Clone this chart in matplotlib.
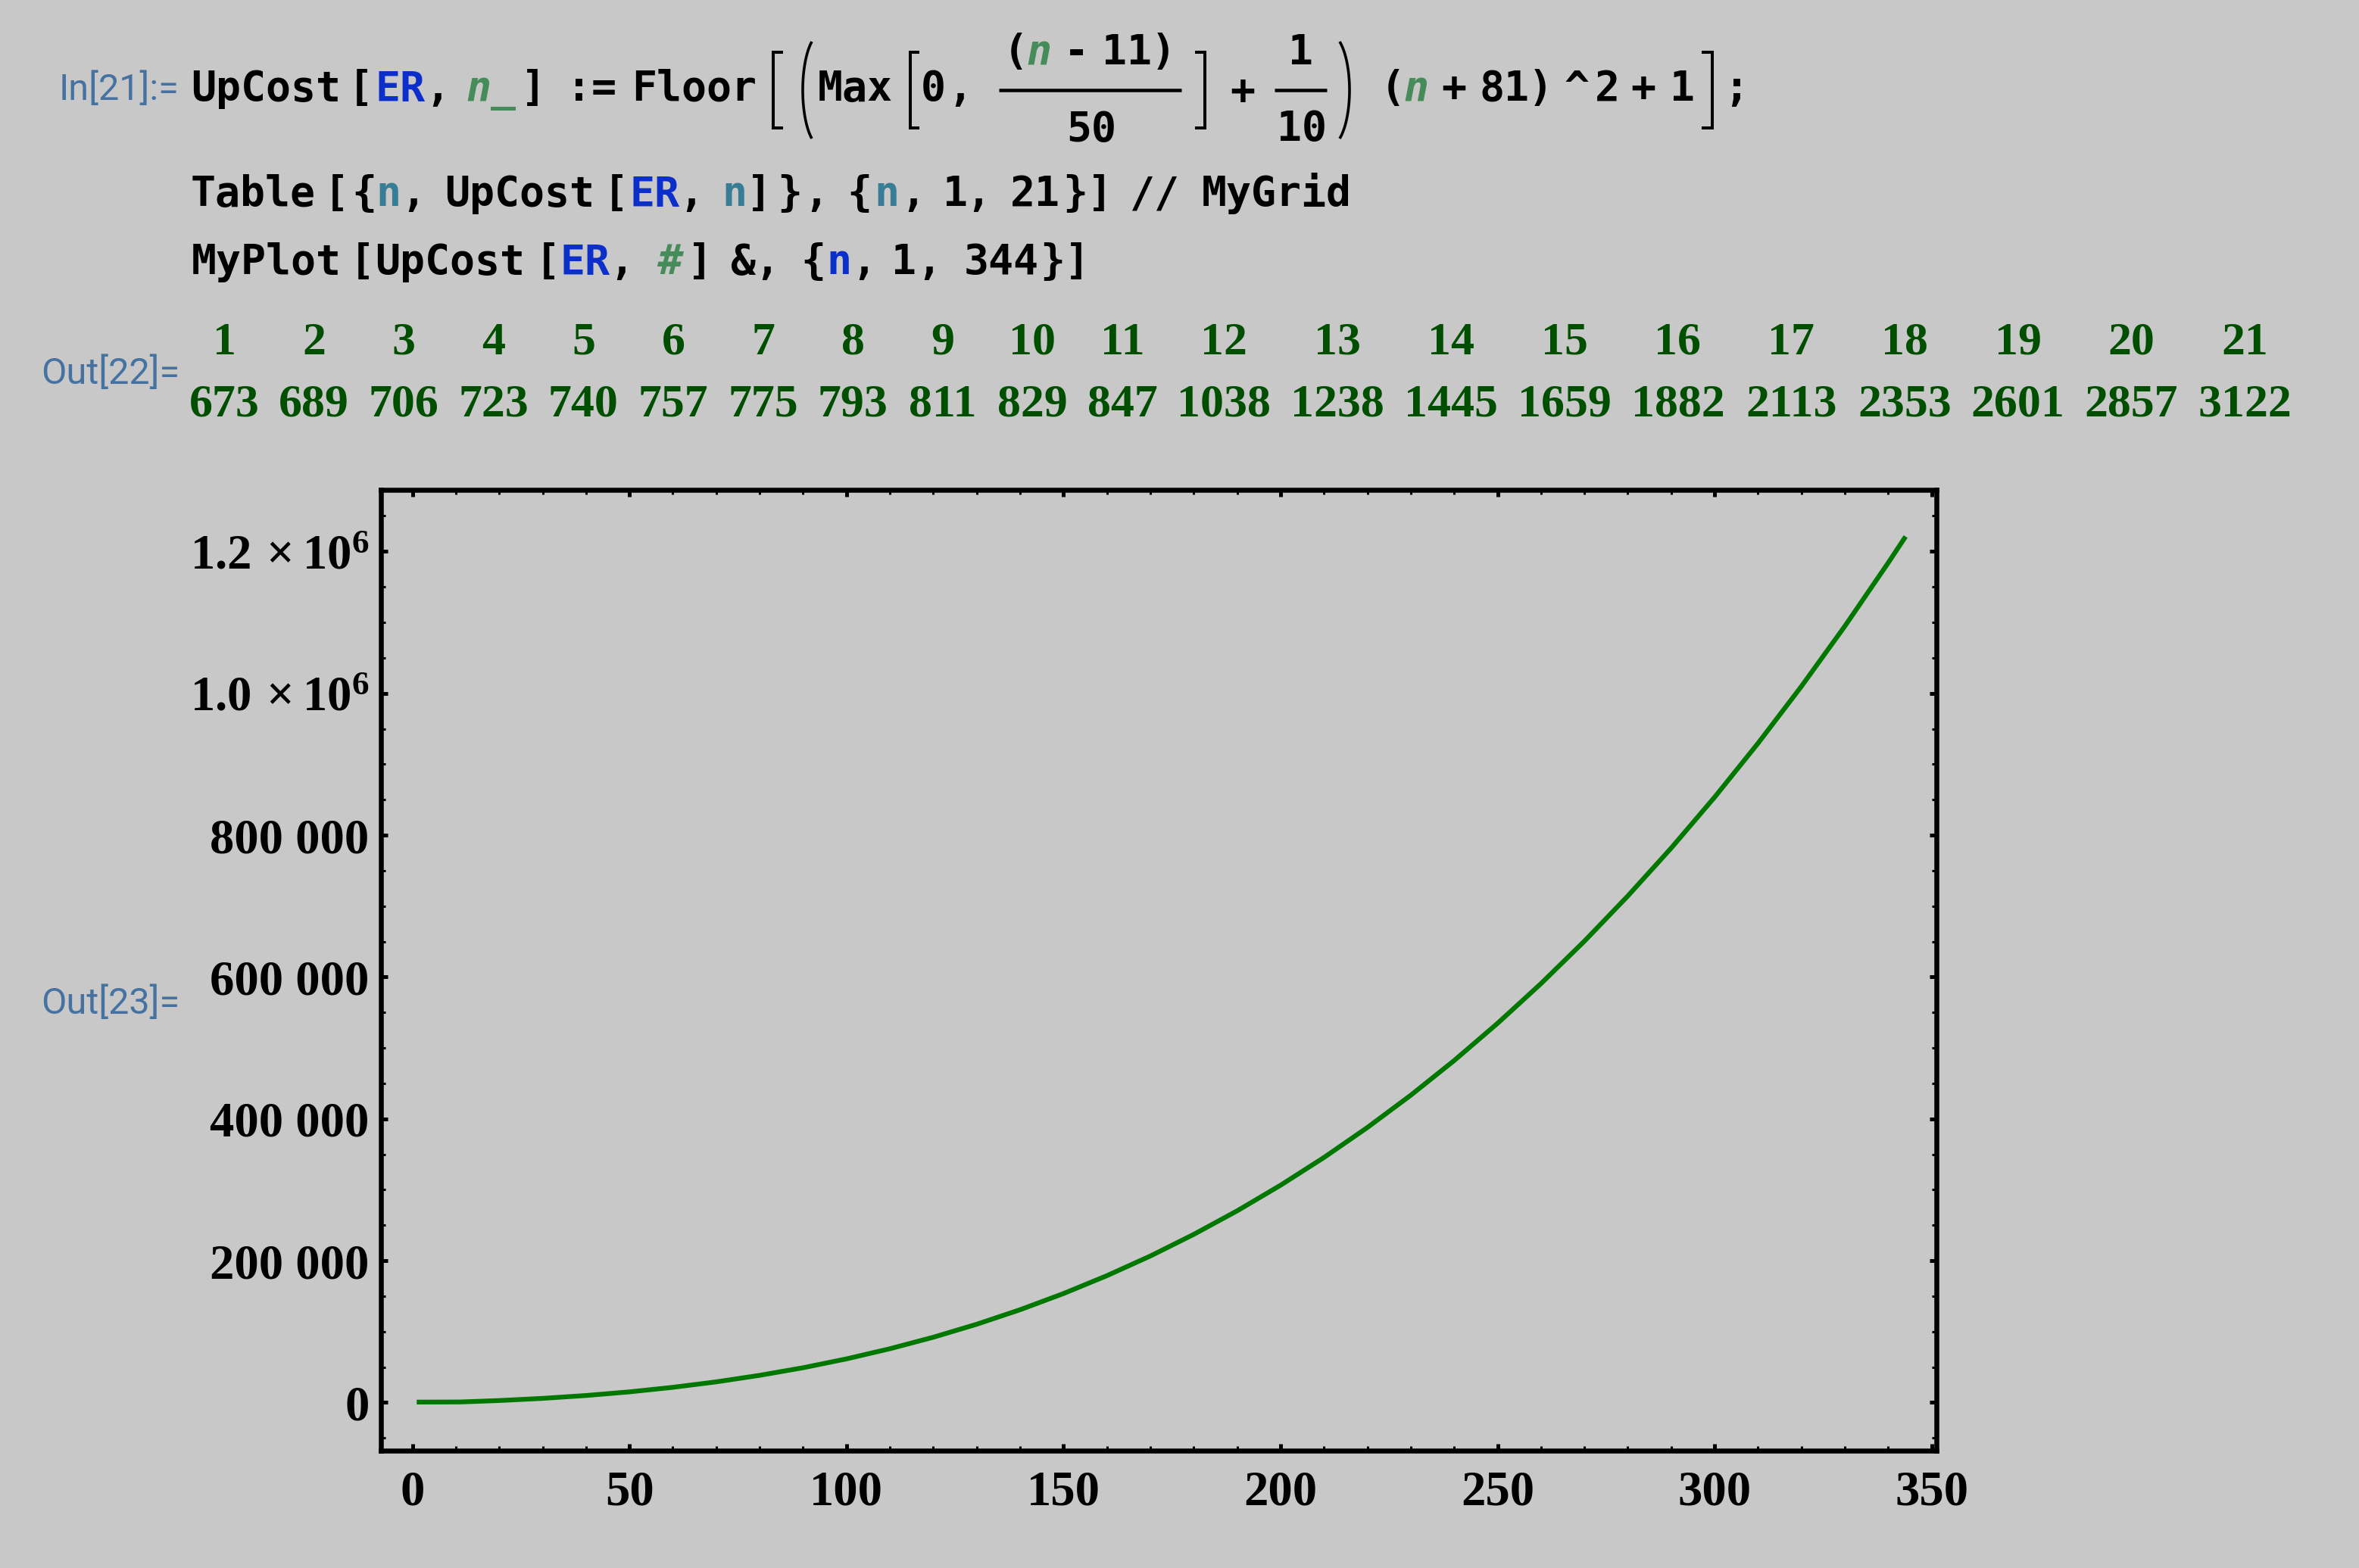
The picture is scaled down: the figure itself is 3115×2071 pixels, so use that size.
import matplotlib
matplotlib.use('Agg')
import matplotlib.pyplot as plt
from matplotlib.lines import Line2D
from matplotlib.ticker import MultipleLocator, FuncFormatter
import numpy as np

W, H, DPI = 3115, 2071, 100
BG = '#c8c8c8'

# Out[22]: n and UpCost[ER, n] for n = 1..21
table_n = list(range(1, 22))
table_cost = [673, 689, 706, 723, 740, 757, 775, 793, 811, 829, 847,
              1038, 1238, 1445, 1659, 1882, 2113, 2353, 2601, 2857, 3122]

# Out[23]: the plotted curve
curve_n = [1, 11, 20, 30, 40, 50, 60, 70, 80, 90, 100, 110, 120, 130, 140,
           150, 160, 170, 180, 190, 200, 210, 220, 230, 240, 250, 260, 270,
           280, 290, 300, 310, 320, 330, 340, 344]
curve_cost = [673, 847, 2860, 5910, 9960, 15100, 21500, 29200, 38400, 49100,
              61600, 75900, 92100, 110400, 130900, 153700, 178900, 206600,
              237100, 270300, 306400, 345500, 387800, 433300, 482200, 534700,
              590700, 650500, 714200, 781800, 853500, 929500, 1009800,
              1094600, 1184000, 1221000]

plt.rcParams['font.family'] = 'Liberation Serif'
plt.rcParams['font.weight'] = 'bold'
plt.rcParams['mathtext.fontset'] = 'custom'
plt.rcParams['mathtext.rm'] = 'Liberation Serif:bold'
plt.rcParams['mathtext.it'] = 'Liberation Serif:bold'
plt.rcParams['mathtext.bf'] = 'Liberation Serif:bold'

K = '#000000'
BLUE = '#0b2fc8'
GREEN = '#468c5a'
TEAL = '#377d96'
LABEL = '#4572a0'
OUTGREEN = '#004f00'
CURVE = '#007800'
MONO = 'DejaVu Sans Mono'
CODE_PT = 39.5


def pt(px):
    return px * 72.0 / DPI


fig = plt.figure(figsize=(W / DPI, H / DPI), dpi=DPI, facecolor=BG)


def put(x, y, s, color=K, size=CODE_PT, italic=False, family=MONO,
        weight='bold', ha='center'):
    fig.text(x / W, 1 - y / H, s, color=color, fontsize=size,
             family=family, weight=weight, ha=ha, va='baseline',
             style='italic' if italic else 'normal')


def seg(xs, ys, lw=4.0):
    fig.add_artist(Line2D([x / W for x in xs], [1 - y / H for y in ys],
                          color=K, lw=pt(lw), transform=fig.transFigure,
                          solid_joinstyle='miter', solid_capstyle='butt'))


def bracket(x0, x1, y0, y1, left=True):
    s = 2
    if left:
        seg([x1, x0 + s, x0 + s, x1], [y0 + s, y0 + s, y1 - s, y1 - s])
    else:
        seg([x0, x1 - s, x1 - s, x0], [y0 + s, y0 + s, y1 - s, y1 - s])


def paren(x0, x1, y0, y1, left=True):
    phi = np.radians(60)
    a = (x1 - x0 - 4) / (1 - np.cos(phi))
    b = ((y1 - y0) / 2 - 2) / np.sin(phi)
    th = np.linspace(-phi, phi, 40)
    cy = (y0 + y1) / 2
    if left:
        xs = x0 + 2 + a * (1 - np.cos(th))
    else:
        xs = x1 - 2 - a * (1 - np.cos(th))
    seg(xs, cy + b * np.sin(th), lw=3.6)


# ---- In[21] ----
put(236, 132, 'In[21]:=', color=LABEL, size=35, family='Roboto',
    weight='normal', ha='right')

line1 = [('UpCost', 351, K), ('[', 476, K), ('ER', 528, BLUE), (',', 577.5, K),
         ('n_', 648.5, GREEN), (']', 704, K), (':=', 780.5, K),
         ('Floor', 916.5, K), ('Max', 1129, K), ('0', 1232, K), (',', 1268, K),
         ('(', 1839, K), ('n', 1869.5, GREEN), ('+', 1919.5, K),
         ('81', 1986.5, K), (')', 2034, K), ('^', 2082, K), ('2', 2122, K),
         ('+', 2170, K), ('1', 2221.5, K), (';', 2292.5, K)]
for s, x, c in line1:
    put(x, 133, s, color=c, italic=(c == GREEN))

# fraction (n - 11)/50
for s, x, c in [('(', 1341, K), ('n', 1372, GREEN), ('-', 1421, K),
                ('11', 1488, K), (')', 1536, K)]:
    put(x, 85, s, color=c, italic=(c == GREEN))
seg([1319, 1560], [118.5, 118.5], lw=4.5)
put(1441, 187, '50')
put(1640.5, 137, '+')
# fraction 1/10
put(1717.5, 85, '1')
seg([1683, 1752], [118.5, 118.5], lw=4.5)
put(1719.5, 186, '10')

bracket(1019, 1034, 67, 171, left=True)
paren(1058, 1074, 53, 185, left=True)
bracket(1200, 1214, 67, 171, left=True)
bracket(1578, 1593, 67, 171, left=False)
paren(1767, 1784, 53, 185, left=False)
bracket(2247, 2263, 67, 171, left=False)

# Table line
line2 = [('Table', 334.5, K), ('[', 444, K), ('{', 480.5, K), ('n', 512.5, TEAL),
         (',', 545.5, K), ('UpCost', 686.5, K), ('[', 813.5, K),
         ('ER', 864, BLUE), (',', 912.5, K), ('n', 970, TEAL), (']', 1002.5, K),
         ('}', 1042.5, K), (',', 1077.5, K), ('{', 1134.5, K),
         ('n', 1171, TEAL), (',', 1205.5, K), ('1', 1261.5, K), (',', 1292, K),
         ('21', 1366.5, K), ('}', 1420, K), (']', 1452.5, K), ('//', 1525, K),
         ('MyGrid', 1685.5, K)]
for s, x, c in line2:
    put(x, 272, s, color=c)

# MyPlot line
line3 = [('MyPlot', 352, K), ('[', 478.5, K), ('UpCost', 594.5, K),
         ('[', 723.5, K), ('ER', 772.5, BLUE), (',', 820.5, K),
         ('#', 885, GREEN), (']', 924, K), ('&', 981, K), (',', 1012.5, K),
         ('{', 1073.5, K), ('n', 1107.5, BLUE), (',', 1140.5, K),
         ('1', 1194, K), (',', 1226.5, K), ('344', 1322.5, K), ('}', 1390, K),
         (']', 1422, K)]
for s, x, c in line3:
    put(x, 362, s, color=c, italic=(c == GREEN))

# ---- Out[22]: grid ----
put(237, 507, 'Out[22]=', color=LABEL, size=35, family='Roboto',
    weight='normal', ha='right')
digit_w, gap = 31.2, 25.0
x = 296.0
prev_w = None
for nv, cv in zip(table_n, table_cost):
    w = max(len(str(nv)), len(str(cv))) * digit_w + gap
    if prev_w is not None:
        x += (prev_w + w) / 2
    prev_w = w
    put(x, 468, str(nv), color=OUTGREEN, size=44.6, family='Liberation Serif')
    put(x, 550, str(cv), color=OUTGREEN, size=44.6, family='Liberation Serif')

# ---- Out[23]: plot ----
put(237, 1339, 'Out[23]=', color=LABEL, size=35, family='Roboto',
    weight='normal', ha='right')

ax = fig.add_axes([503 / W, 1 - 1915.5 / H, (2557 - 503) / W,
                   (1915.5 - 647) / H])
ax.set_facecolor(BG)
ax.plot(curve_n, curve_cost, color=CURVE, lw=4.5, solid_capstyle='butt',
        solid_joinstyle='round')
ax.set_xlim(-7.25, 351.1)
ax.set_ylim(-67250, 1286800)

ax.xaxis.set_major_locator(MultipleLocator(50))
ax.xaxis.set_minor_locator(MultipleLocator(10))
ax.yaxis.set_major_locator(MultipleLocator(200000))
ax.yaxis.set_minor_locator(MultipleLocator(50000))


def ylab(v, pos):
    if v >= 1e6:
        return r'$%.1f\,\times10^{6}$' % (v / 1e6)
    return '{:,}'.format(int(round(v))).replace(',', ' ')


ax.yaxis.set_major_formatter(FuncFormatter(ylab))
ax.xaxis.set_major_formatter(FuncFormatter(lambda v, p: '%d' % v))

for sp in ax.spines.values():
    sp.set_linewidth(4.7)
    sp.set_color(K)
ax.tick_params(which='both', direction='in', top=True, right=True, color=K)
ax.tick_params(which='major', length=6.7, width=3.6, labelsize=46.5)
ax.tick_params(which='minor', length=4.5, width=2.2)
ax.tick_params(axis='x', which='major', pad=19)
ax.tick_params(axis='y', which='major', pad=11)

fig.savefig('out.png', dpi=DPI, facecolor=BG)
